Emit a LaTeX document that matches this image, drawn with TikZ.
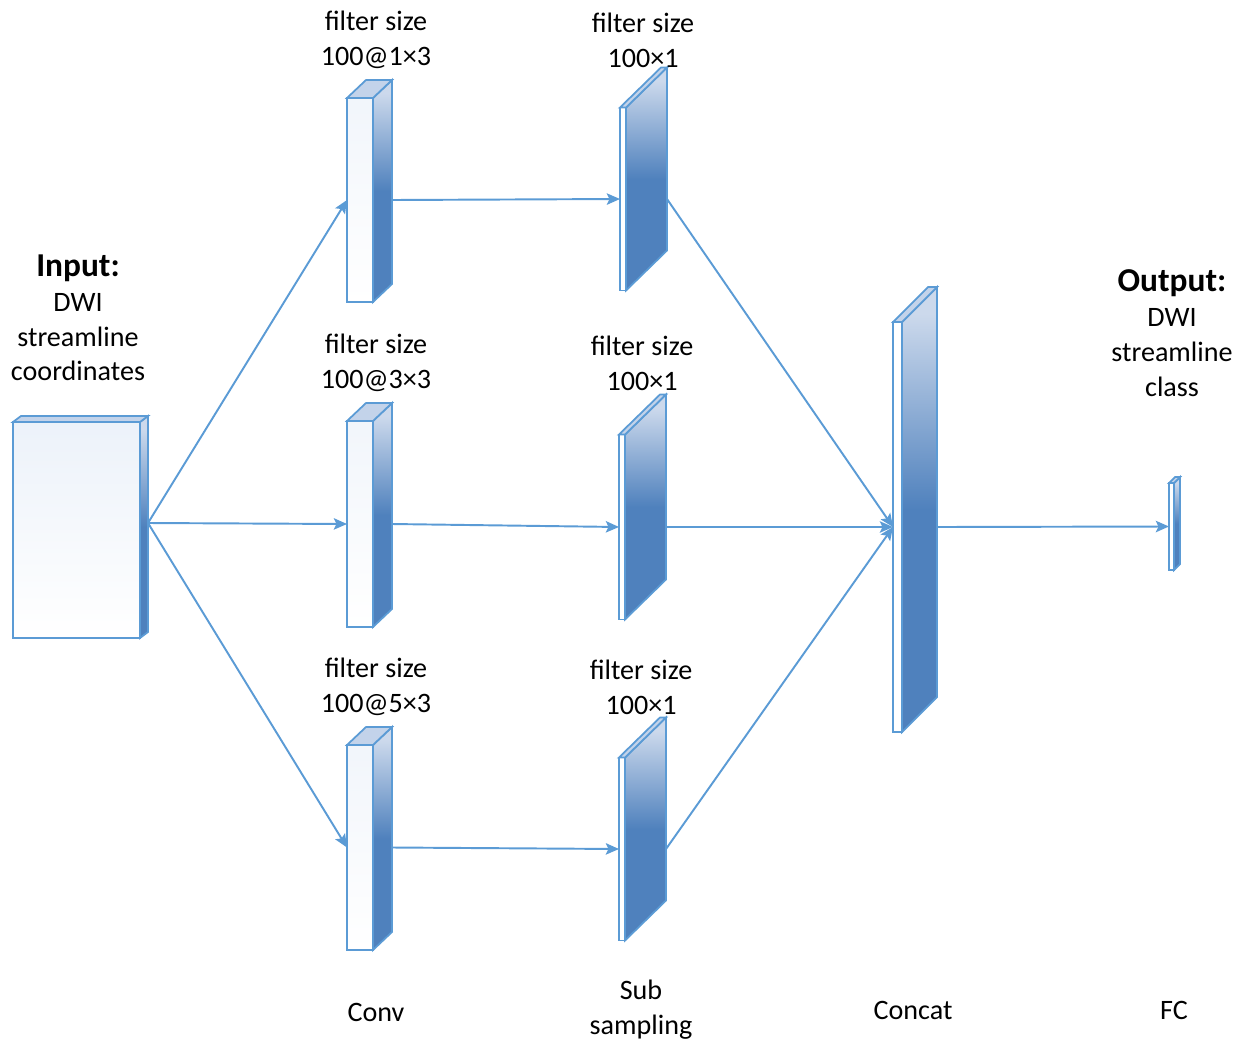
\documentclass[tikz,border=0pt]{standalone}
\usepackage{fontspec}
\setmainfont{Carlito}
\usetikzlibrary{calc,arrows.meta,positioning}

\definecolor{edgeblue}{HTML}{5B9BD5}
\definecolor{darkblue}{HTML}{4F81BD}
\definecolor{paleblue}{HTML}{CCD9EC}
\definecolor{topblue}{HTML}{C3D3EA}
\definecolor{faceblue}{HTML}{E4ECF7}

\pgfdeclareverticalshading{layershade}{100bp}{color(0bp)=(darkblue); color(25bp)=(darkblue); color(50bp)=(darkblue); color(72bp)=(paleblue); color(100bp)=(paleblue)}

\tikzstyle{layerfront}=[rectangle,draw=edgeblue,line width=1pt,inner sep=0pt,outer sep=0pt,fill=white]
\tikzstyle{layerside}=[draw=edgeblue,line width=1pt,shading=layershade]
\tikzstyle{layertop}=[draw=edgeblue,line width=1pt,fill=topblue]
\tikzstyle{lbl}=[align=center,inner sep=0pt,font=\fontsize{16}{19.8}\selectfont]
\tikzstyle{link}=[draw=edgeblue,line width=1.1pt,->]

% name, x, y, width, height, depth x, depth y (pixels)
\newcommand{\drawlayer}[8][]{%
  \node[layerfront,#1,minimum width=#5*0.02cm,minimum height=#6*0.02cm] (#2) at (#3,#4) {};
  \path[layerside] (#2.north east) -- ++(#7,#8) -- ($(#2.south east)+(#7,#8)$) -- (#2.south east) -- cycle;
  \path[layertop] (#2.north west) -- ++(#7,#8) -- ++(#5,0) -- (#2.north east) -- cycle;
  \coordinate (#2-out) at ($(#2.east)+(#7,0)$);
}

\begin{document}
\begin{tikzpicture}[x=0.02cm,y=-0.02cm,>={Stealth[length=7.5pt,width=6.5pt,inset=1.5pt]}]
    \useasboundingbox (0,0) rectangle (1249,1049);

    % layers
    \drawlayer[top color=faceblue!70,bottom color=white]{in}{76.5}{530}{127}{216}{8}{-6}
    \coordinate (in-out) at ($(in.east)+(8,-7)$);
    \drawlayer[top color=faceblue!50,bottom color=white]{conv1}{360}{200}{26}{204}{19}{-18}
    \drawlayer[top color=faceblue!50,bottom color=white]{conv2}{360}{524}{26}{206}{19}{-18}
    \drawlayer[top color=faceblue!50,bottom color=white]{conv3}{360}{847.5}{26}{205}{19}{-18}
    \drawlayer{sub1}{623}{199}{6}{183}{41}{-40}
    \drawlayer{sub2}{622}{527}{6}{185}{41}{-40}
    \drawlayer{sub3}{622}{849}{6}{183}{41}{-40}
    \drawlayer{concat}{897.5}{527}{9}{410}{35}{-35}
    \drawlayer{fc}{1171.5}{526.5}{5}{87}{6}{-6}

    % connections
    \draw[link] (in-out) -- (conv1.west);
    \draw[link] (in-out) -- (conv2.west);
    \draw[link] (in-out) -- (conv3.west);
    \draw[link] (conv1-out) -- (sub1.west);
    \draw[link] (conv2-out) -- (sub2.west);
    \draw[link] (conv3-out) -- (sub3.west);
    \draw[link] (sub1-out) -- (concat.west);
    \draw[link] (sub2-out) -- (concat.west);
    \draw[link] (sub3-out) -- (concat.west);
    \draw[link] (concat-out) -- (fc.west);

    % labels
    \node[lbl] (inlbl) at (78,318) {{\fontsize{19}{19.8}\selectfont\bfseries Input:}\\DWI\\streamline\\coordinates};
    \node[lbl] (outlbl) at (1172,333) {{\fontsize{19}{19.8}\selectfont\bfseries Output:}\\DWI\\streamline\\class};
    \node[lbl] (conv1lbl) at (376,40) {filter size\\100@1×3};
    \node[lbl] (conv2lbl) at (376,363) {filter size\\100@3×3};
    \node[lbl] (conv3lbl) at (376,687) {filter size\\100@5×3};
    \node[lbl] (sub1lbl) at (643,40) {filter size\\100×1};
    \node[lbl] (sub2lbl) at (642,363) {filter size\\100×1};
    \node[lbl] (sub3lbl) at (641,687) {filter size\\100×1};
    \node[lbl] (convcap) at (376,1012) {Conv};
    \node[lbl] (subcap) at (641,1010) {Sub\\sampling};
    \node[lbl] (concatcap) at (913,1010) {Concat};
    \node[lbl] (fccap) at (1174,1010) {FC};
\end{tikzpicture}
\end{document}
